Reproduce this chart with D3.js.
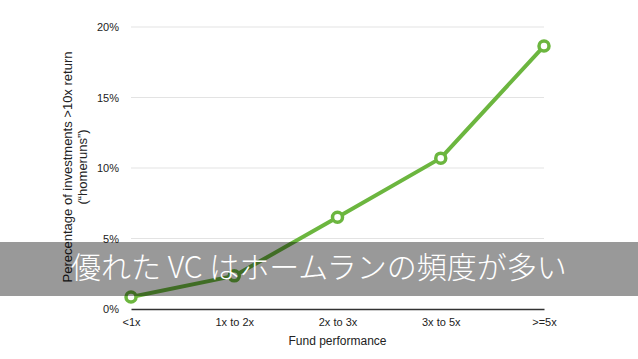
<!DOCTYPE html>
<html>
<head>
<meta charset="utf-8">
<script src="https://cdn.jsdelivr.net/npm/d3@7"></script>
<style>
  body { margin: 0; background: #fff; }
  svg { display: block; font-family: "Liberation Sans", Helvetica, Arial, sans-serif; }
</style>
</head>
<body>
<div id="chart"></div>
<script>
// data
var categories = ['<1x', '1x to 2x', '2x to 3x', '3x to 5x', '>=5x'];
var homerunPct = [0.85, 2.35, 6.5, 10.7, 18.65];
var yTicks = [0, 5, 10, 15, 20];
var caption = '優れた VC はホームランの頻度が多い';

var W = 638, H = 359;
var margin = { top: 27, right: 94, bottom: 50, left: 131 };
var width = W - margin.left - margin.right,
    height = H - margin.top - margin.bottom;

var svg = d3.select('#chart').append('svg')
    .attr('width', W)
    .attr('height', H);

var g = svg.append('g')
    .attr('transform', 'translate(' + margin.left + ',' + margin.top + ')');

var x = d3.scalePoint().domain(categories).range([0, width]).padding(0);
var y = d3.scaleLinear().domain([0, 20]).range([height, 0]);

// gridlines
g.selectAll('line.grid')
    .data(yTicks.filter(function(d) { return d > 0; }))
    .enter()
    .append('line')
    .attr('class', 'grid')
    .attr('x1', 0)
    .attr('x2', width)
    .attr('y1', function(d) { return y(d); })
    .attr('y2', function(d) { return y(d); })
    .attr('stroke', '#e3e3e3')
    .attr('stroke-width', 1);

// y tick labels
var yAxis = d3.axisLeft(y)
    .tickValues(yTicks)
    .tickSize(0)
    .tickPadding(12)
    .tickFormat(function(d) { return d + '%'; });
var yg = g.append('g').call(yAxis);
yg.select('.domain').remove();
yg.selectAll('text').attr('font-size', 11).attr('fill', '#222')
    .attr('font-family', '"Liberation Sans", Helvetica, Arial, sans-serif');

// x axis
var xAxis = d3.axisBottom(x).tickSize(0).tickPadding(9);
var xg = g.append('g').attr('transform', 'translate(0,' + height + ')').call(xAxis);
xg.select('.domain').attr('stroke', '#333').attr('stroke-width', 1.5);
xg.selectAll('text').attr('font-size', 11).attr('fill', '#222')
    .attr('font-family', '"Liberation Sans", Helvetica, Arial, sans-serif');

// axis titles
svg.append('text')
    .text('Fund performance')
    .attr('x', margin.left + width / 2)
    .attr('y', H - 14)
    .attr('text-anchor', 'middle')
    .attr('font-size', 12)
    .attr('fill', '#222');

var yTitle = svg.append('text')
    .attr('transform', 'translate(72,' + 167 + ') rotate(-90)')
    .attr('text-anchor', 'middle')
    .attr('font-size', 13)
    .attr('fill', '#222');
yTitle.append('tspan').attr('x', 0).attr('dy', 0).text('Perecentage of investments >10x return');
yTitle.append('tspan').attr('x', 0).attr('dy', 15).text('(\u201chomeruns\u201d)');

// line
var line = d3.line()
    .x(function(d, i) { return x(categories[i]); })
    .y(function(d) { return y(d); });

g.append('path')
    .datum(homerunPct)
    .attr('d', line)
    .attr('fill', 'none')
    .attr('stroke', '#6cb63f')
    .attr('stroke-width', 4)
    .attr('stroke-linejoin', 'round');

g.selectAll('circle')
    .data(homerunPct)
    .enter()
    .append('circle')
    .attr('cx', function(d, i) { return x(categories[i]); })
    .attr('cy', function(d) { return y(d); })
    .attr('r', 5)
    .attr('fill', '#fff')
    .attr('stroke', '#6cb63f')
    .attr('stroke-width', 3.5);

// caption band across the slide
svg.append('rect')
    .attr('x', 0)
    .attr('y', 242)
    .attr('width', W)
    .attr('height', 54)
    .attr('fill', '#000')
    .attr('opacity', 0.4);

svg.append('text')
    .text(caption)
    .attr('x', 71)
    .attr('y', 278)
    .attr('font-size', 30)
    .attr('font-weight', 300)
    .attr('font-family', '"Noto Sans CJK JP", "Noto Sans", sans-serif')
    .attr('fill', '#fff');
</script>
</body>
</html>
